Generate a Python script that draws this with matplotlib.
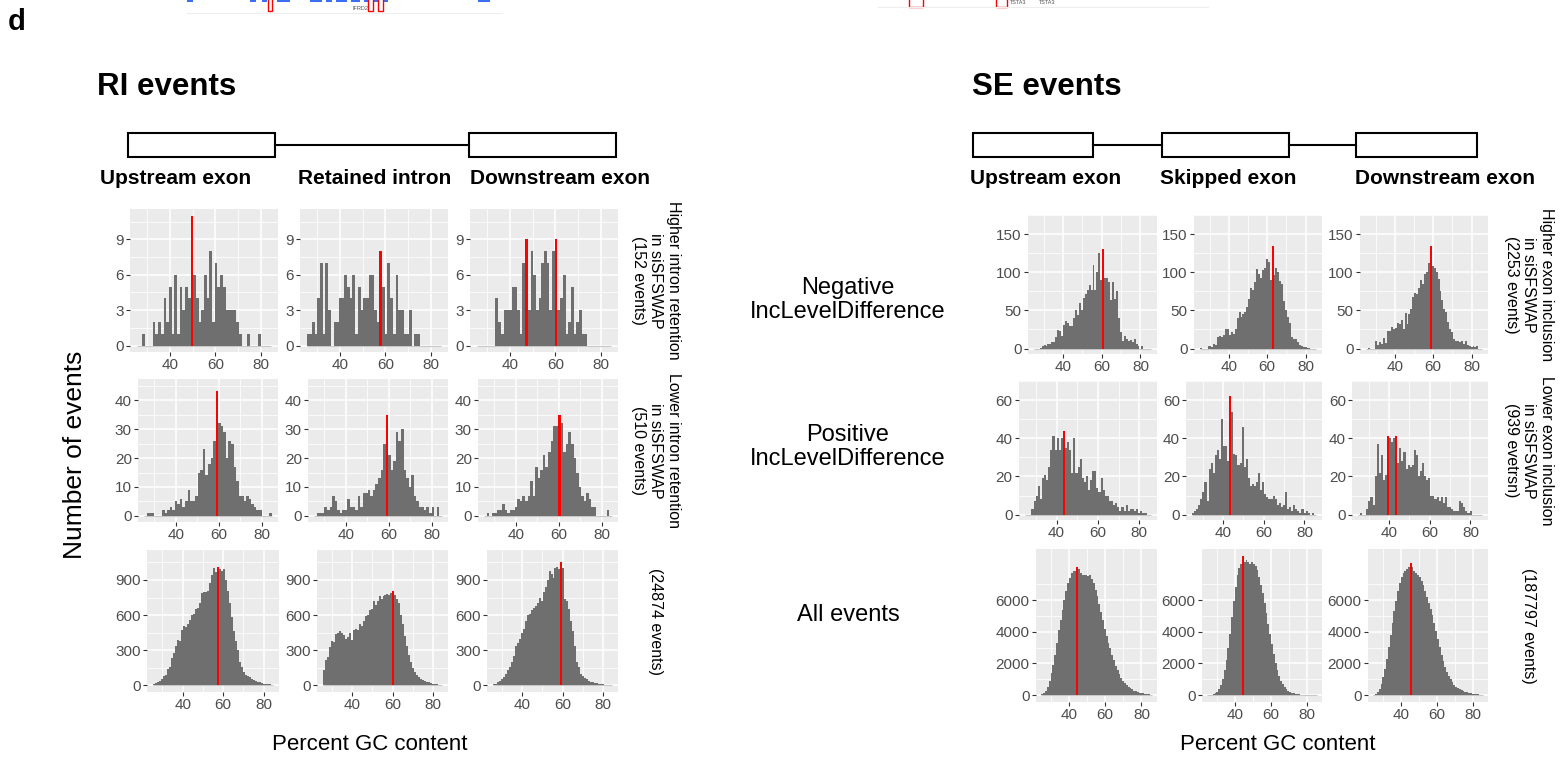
import numpy as np
import matplotlib.pyplot as plt
import matplotlib.patches as mpatches

plt.rcParams['font.family'] = ['Liberation Sans', 'DejaVu Sans']

# --- DATOS: recuentos por bin de %GC ---
# RI, fila 1: mayor retención de intrón (152 eventos), 50 bins
RI_UP_HIGH = [0,0,1,0,0,0,2,1,2,1,4,2,5,1,6,1,5,3,5,4,11,6,4,2,3,6,4,8,2,7,5,6,5,3,3,3,3,2,1,0,0,1,0,0,0,1,0,0,0,0]
RI_INTRON_HIGH = [1,1,2,1,4,7,1,7,3,0,2,2,4,4,6,5,4,6,1,5,3,4,4,6,6,3,2,8,5,1,7,4,1,6,3,3,1,1,3,0,1,1,0,0,0,0,0,0,0,0]
RI_DOWN_HIGH = [0,0,0,0,0,0,0,4,2,1,3,3,3,5,5,3,1,7,9,3,8,6,3,4,7,8,7,3,8,9,3,4,6,1,2,5,1,2,3,1,1,0,0,0,0,0,0,0,0,0]
# RI, fila 2: menor retención (510 eventos), 50 bins
RI_UP_LOW = [0,1,1,1,0,0,0,2,1,2,3,2,5,4,6,3,5,9,5,5,7,15,16,23,14,18,20,26,43,32,31,29,20,26,25,17,12,7,7,5,7,6,4,3,2,2,0,0,0,1]
RI_INTRON_LOW = [0,1,1,1,3,2,3,7,5,2,1,2,2,6,3,3,2,7,3,8,8,9,7,9,11,13,16,25,35,21,16,19,29,26,30,16,13,10,14,7,5,3,3,2,3,1,3,0,3,0]
RI_DOWN_LOW = [0,1,0,1,1,2,2,4,2,1,2,2,3,6,5,7,5,7,12,7,17,13,16,21,17,22,26,31,31,35,32,22,25,29,25,20,15,10,7,5,8,6,3,3,0,0,0,0,2,0]
# RI, fila 3: todos los eventos (24874), 60 bins
RI_UP_ALL = [10,20,25,35,50,80,90,140,160,230,280,340,390,380,470,510,500,520,560,600,
             610,650,660,700,790,800,800,810,870,940,1000,970,1010,990,980,990,900,810,700,580,
             460,380,300,200,160,110,90,80,70,55,45,35,30,25,20,15,12,10,8,4]
RI_INTRON_ALL = [130,220,240,330,380,370,440,450,460,450,430,400,410,450,390,470,480,470,520,510,
                 550,590,600,640,650,720,690,720,760,740,760,770,780,770,790,810,770,740,700,600,
                 520,420,340,260,200,150,110,90,70,55,45,35,30,25,18,14,10,8,5,3]
RI_DOWN_ALL = [10,15,25,40,50,70,100,130,160,200,250,340,360,400,450,480,550,600,610,640,
               660,680,700,750,720,800,840,900,980,950,920,1000,1010,990,1050,1000,740,720,650,550,
               460,340,200,160,100,80,60,50,40,30,28,22,18,14,10,8,6,5,3,2]

# SE, fila 1: mayor inclusión (2253 eventos), 60 bins
SE_UP_HIGH = [0,0,0,1,3,5,3,6,6,9,8,15,24,23,17,31,36,33,30,30,40,51,44,60,50,66,72,77,83,77,
              110,77,100,125,90,130,92,93,87,63,87,65,76,40,22,10,17,12,10,11,8,12,6,3,0,3,0,0,0,0]
SE_SKIP_HIGH = [1,0,0,0,4,3,2,6,5,15,17,15,18,25,26,18,22,19,25,40,48,41,45,48,55,65,80,77,87,104,
                98,92,103,105,118,113,90,135,97,105,100,88,85,62,50,42,33,15,12,12,8,5,3,2,2,1,1,0,0,0]
SE_DOWN_HIGH = [0,1,0,0,0,10,5,8,6,14,7,23,23,28,25,27,34,32,38,26,47,32,45,52,68,73,71,80,90,85,
                98,100,112,135,108,105,100,91,75,64,52,48,35,25,22,12,10,10,8,10,6,10,5,4,2,3,2,3,0,0]
# SE, fila 2: menor inclusión (939 eventos), 60 bins
SE_UP_LOW = [0,0,0,3,7,10,15,8,19,21,18,25,34,41,34,40,34,40,44,35,38,34,22,40,22,25,29,19,17,20,
             13,18,23,23,14,12,19,13,10,10,7,7,5,6,4,2,4,2,5,2,3,3,2,3,1,2,1,1,0,0]
SE_SKIP_LOW = [1,2,3,5,8,12,17,7,24,27,22,31,34,29,50,36,36,28,62,54,32,31,26,27,46,25,29,19,15,16,
               15,17,22,13,17,11,9,8,8,10,8,5,6,4,5,12,3,4,2,5,3,2,1,3,1,2,1,0,1,0]
SE_DOWN_LOW = [0,1,0,0,3,7,9,5,20,37,22,31,18,21,41,40,38,40,41,27,35,28,33,24,26,25,26,34,31,20,
               23,27,20,18,19,10,10,8,9,7,9,6,9,4,4,3,2,2,2,7,6,4,2,1,2,0,0,0,0,0]
# SE, fila 3: todos los eventos (187797), 60 bins
SE_UP_ALL = [40,115,255,510,900,1400,1900,2550,3300,4100,4750,5400,6000,6550,7050,7400,7700,7800,7850,8080,
             7950,7700,7550,7600,7550,7500,7550,7300,7050,6650,6250,5750,5250,4750,4200,3700,3300,2950,2550,2200,
             1850,1550,1300,1100,900,740,610,510,420,350,280,230,190,155,130,100,75,58,40,25]
SE_SKIP_ALL = [0,0,13,40,100,190,390,650,1030,1550,2200,2950,3850,4900,5950,6850,7600,8000,8250,8780,
               8400,8500,8400,8250,8400,8250,8130,7870,7480,6970,6450,5800,5150,4500,3850,3200,2600,2050,1600,1230,
               900,670,490,360,260,190,140,100,80,60,45,32,25,20,13,10,6,4,3,0]
SE_DOWN_ALL = [25,75,190,380,690,1130,1640,2270,3020,3780,4540,5290,5920,6550,7060,7430,7690,7810,7940,8060,
               8340,8060,7810,7690,7560,7430,7180,6930,6550,6170,5800,5420,5040,4540,4030,3530,3020,2520,2140,1760,
               1450,1200,1010,820,660,530,440,370,300,250,215,175,140,115,90,70,50,38,25,13]

RI_DATA = [[RI_UP_HIGH, RI_INTRON_HIGH, RI_DOWN_HIGH],
           [RI_UP_LOW, RI_INTRON_LOW, RI_DOWN_LOW],
           [RI_UP_ALL, RI_INTRON_ALL, RI_DOWN_ALL]]
SE_DATA = [[SE_UP_HIGH, SE_SKIP_HIGH, SE_DOWN_HIGH],
           [SE_UP_LOW, SE_SKIP_LOW, SE_DOWN_LOW],
           [SE_UP_ALL, SE_SKIP_ALL, SE_DOWN_ALL]]

XTICKS = [40, 60, 80]
RI_YTICKS = [[0, 3, 6, 9], [0, 10, 20, 30, 40], [0, 300, 600, 900]]
SE_YTICKS = [[0, 50, 100, 150], [0, 20, 40, 60], [0, 2000, 4000, 6000]]

RI_STRIPS = ["Higher intron retention\nin siSFSWAP\n(152 events)",
             "Lower intron retention\nin siSFSWAP\n(510 events)",
             "(24874 events)"]
SE_STRIPS = ["Higher exon inclusion\nin siSFSWAP\n(2253 events)",
             "Lower exon inclusion\nin siSFSWAP\n(939 evetrsn)",
             "(187797 events)"]
RI_COLS = ["Upstream exon", "Retained intron", "Downstream exon"]
SE_COLS = ["Upstream exon", "Skipped exon", "Downstream exon"]
ROW_LABELS = ["Negative\nIncLevelDifference", "Positive\nIncLevelDifference", "All events"]

# --- ESTILO ---
BAR_GRAY = "#6F6F6F"
RED = "#FF0000"
PANEL_BG = "#EBEBEB"
W, H = 1568, 763

# --- LAYOUT (píxeles, origen arriba-izquierda) ---
RI_ROW_Y = [(209, 352), (379, 522), (550, 692)]
RI_COL_X = [[(130, 278), (300, 448), (470, 618)],
            [(138, 278), (308, 448), (478, 618)],
            [(147, 279), (317, 448), (487, 618)]]
RI_YLIM = [(-0.55, 11.57), (-2.1, 47.3), (-57, 1156)]
RI_RANGE = (25.3, 84.7)
RI_XLIM = (22.4, 87.6)

SE_ROW_Y = [(215, 354), (381, 520), (549, 702)]
SE_COL_X = [[(1028, 1157), (1194, 1322), (1360, 1488)],
            [(1019, 1157), (1186, 1322), (1352, 1488)],
            [(1036, 1157), (1202, 1322), (1368, 1488)]]
SE_YLIM = [(-7.1, 158.7), (-2.8, 68.5), (-440, 9220)]
SE_RANGE = (24.8, 85.6)
SE_XLIM = (21.8, 88.6)

fig = plt.figure(figsize=(W / 100, H / 100), dpi=100)

deco = fig.add_axes([0, 0, 1, 1])
deco.set_xlim(0, W)
deco.set_ylim(H, 0)
deco.axis("off")


def panel(x0, x1, y0, y1):
    return fig.add_axes([x0 / W, 1 - y1 / H, (x1 - x0) / W, (y1 - y0) / H])


def histo(ax, counts, rng, xlim, ylim, yticks):
    counts = np.asarray(counts)
    edges = np.linspace(rng[0], rng[1], len(counts) + 1)
    centers = (edges[:-1] + edges[1:]) / 2
    colors = np.where(counts == counts.max(), RED, BAR_GRAY)
    ax.set_facecolor(PANEL_BG)
    ax.hlines(0, edges[0], edges[-1], color="#C8C8C8", lw=0.8, zorder=2)
    ax.bar(centers, counts, width=edges[1] - edges[0], color=colors, linewidth=0, zorder=3)
    ax.set_xlim(xlim)
    ax.set_ylim(ylim)
    ax.set_xticks(XTICKS)
    ax.set_xticks([30, 50, 70], minor=True)
    ax.set_yticks(yticks)
    step = yticks[1] - yticks[0]
    ax.set_yticks([t + step / 2 for t in yticks], minor=True)
    ax.grid(which="major", color="white", lw=1.1)
    ax.grid(which="minor", color="white", lw=0.55)
    ax.set_axisbelow(True)
    for s in ax.spines.values():
        s.set_visible(False)
    ax.tick_params(which="major", length=3, width=0.8, color="#333333",
                   labelsize=11, labelcolor="#4D4D4D", pad=1.5)
    ax.tick_params(which="minor", length=0)


# --- HISTOGRAMAS RI ---
for r in range(3):
    for c in range(3):
        x0, x1 = RI_COL_X[r][c]
        ax = panel(x0, x1, *RI_ROW_Y[r])
        histo(ax, RI_DATA[r][c], RI_RANGE, RI_XLIM, RI_YLIM[r], RI_YTICKS[r])
    yc = sum(RI_ROW_Y[r]) / 2
    deco.text(656, yc, RI_STRIPS[r], rotation=270, ha="center", va="center",
              fontsize=11.5, multialignment="center")

# --- HISTOGRAMAS SE ---
for r in range(3):
    for c in range(3):
        x0, x1 = SE_COL_X[r][c]
        ax = panel(x0, x1, *SE_ROW_Y[r])
        histo(ax, SE_DATA[r][c], SE_RANGE, SE_XLIM, SE_YLIM[r], SE_YTICKS[r])
    yc = sum(SE_ROW_Y[r]) / 2
    deco.text(1529, yc, SE_STRIPS[r], rotation=270, ha="center", va="center",
              fontsize=11.5, multialignment="center")
    deco.text(848, [300, 447, 615][r], ROW_LABELS[r], ha="center", va="center",
              fontsize=17, linespacing=1.1)

# --- ESQUEMAS DE GENES ---
BOX_KW = dict(facecolor="white", edgecolor="black", lw=1.5)
for bx0, bx1 in [(128, 275), (469, 616), (973, 1093), (1162, 1289), (1356, 1477)]:
    deco.add_patch(mpatches.Rectangle((bx0, 133), bx1 - bx0, 24, **BOX_KW))
for lx0, lx1 in [(275, 469), (1093, 1162), (1289, 1356)]:
    deco.plot([lx0, lx1], [145, 145], color="black", lw=1.5)
for xl, lab in zip([100, 298, 470], RI_COLS):
    deco.text(xl, 178, lab, fontsize=15, fontweight="bold", va="center")
for xl, lab in zip([970, 1160, 1355], SE_COLS):
    deco.text(xl, 178, lab, fontsize=15, fontweight="bold", va="center")

# --- TÍTULOS ---
deco.text(97, 87, "RI events", fontsize=22.5, fontweight="bold", va="center")
deco.text(972, 87, "SE events", fontsize=22.5, fontweight="bold", va="center")
deco.text(8, 22, "d", fontsize=21, fontweight="bold", va="center")
deco.text(75, 455, "Number of events", rotation=90, fontsize=19, ha="center", va="center")
deco.text(370, 745, "Percent GC content", fontsize=16, ha="center", va="center")
deco.text(1278, 745, "Percent GC content", fontsize=16, ha="center", va="center")

# --- RESTOS DEL PANEL SUPERIOR (recortado) ---
deco.plot([187, 502], [13, 13], color="#EEEEEE", lw=0.8)
deco.plot([878, 1208], [7, 7], color="#EEEEEE", lw=0.8)
for bx0, bx1 in [(187, 193), (250, 256), (262, 267), (277, 290), (310, 322), (326, 332),
                 (336, 347), (351, 360), (364, 388), (478, 490)]:
    deco.add_patch(mpatches.Rectangle((bx0, -1), bx1 - bx0, 3, facecolor="#3B6EF5", lw=0))
for bx0, bx1, h in [(268, 272, 11), (368, 373, 11), (378, 383, 11), (909, 923, 7), (996, 1007, 7)]:
    deco.add_patch(mpatches.Rectangle((bx0, -2), bx1 - bx0, h + 2, facecolor="white",
                                      edgecolor="red", lw=1.0))
deco.text(360, 8, "IFRD2", fontsize=4, color="#555555", ha="center", va="center")
deco.text(1018, 3, "TSTA3", fontsize=4, color="#555555", ha="center", va="center")
deco.text(1047, 3, "TSTA3", fontsize=4, color="#555555", ha="center", va="center")

fig.savefig("out.png", dpi=100)
